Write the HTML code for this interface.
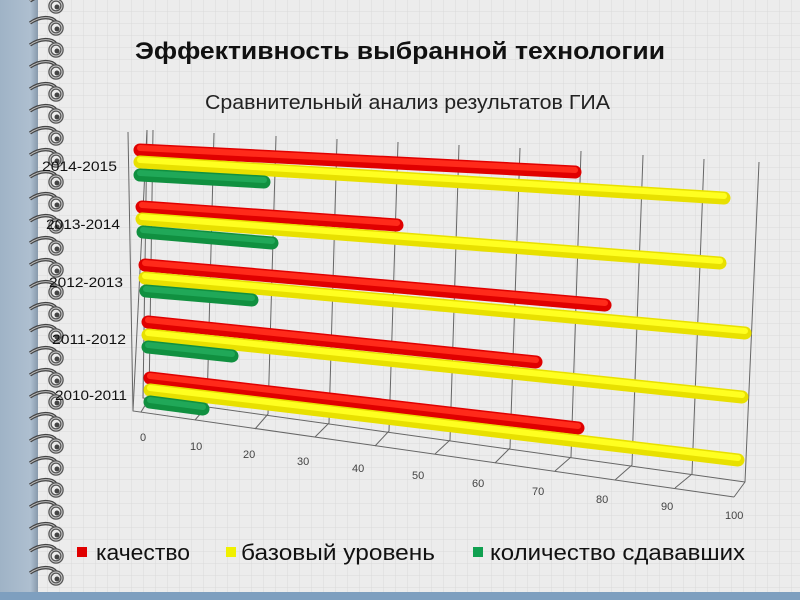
<!DOCTYPE html>
<html><head><meta charset="utf-8"><style>
html,body{margin:0;padding:0;width:800px;height:600px;overflow:hidden}
body{background:#ebebeb}
svg{display:block}
</style></head><body>
<svg width="800" height="600" xmlns="http://www.w3.org/2000/svg" font-family="Liberation Sans, DejaVu Sans, sans-serif">
<defs>
<pattern id="grid" width="12" height="12" patternUnits="userSpaceOnUse">
<rect width="12" height="12" fill="#ececec"/>
<path d="M12 0V12M0 12H12" stroke="#dadada" stroke-width="1"/>
</pattern>
<linearGradient id="side" x1="0" x2="1"><stop offset="0" stop-color="#9fb3c6"/><stop offset="0.8" stop-color="#aebfd0"/><stop offset="1" stop-color="#8799ab"/></linearGradient>
<g id="coil">
<path d="M30 5 C40 -2 52 -2 56 4" stroke="#444" stroke-width="3.5" fill="none"/>
<path d="M30 5 C40 -2 52 -2 56 4" stroke="#bbb" stroke-width="1" fill="none"/>
<circle cx="56" cy="10" r="6" fill="none" stroke="#555" stroke-width="3.5"/>
<circle cx="56" cy="10" r="6" fill="none" stroke="#ccc" stroke-width="1"/>
<circle cx="57" cy="11" r="2.5" fill="#444"/>
</g>
</defs>
<rect width="800" height="600" fill="url(#grid)"/>
<rect width="38" height="600" fill="url(#side)"/>
<rect x="0" y="592" width="800" height="8" fill="#7e9fbf"/>
<g>
<use href="#coil" y="-4"/><use href="#coil" y="18"/><use href="#coil" y="40"/><use href="#coil" y="62"/><use href="#coil" y="84"/><use href="#coil" y="106"/><use href="#coil" y="128"/><use href="#coil" y="150"/><use href="#coil" y="172"/><use href="#coil" y="194"/><use href="#coil" y="216"/><use href="#coil" y="238"/><use href="#coil" y="260"/><use href="#coil" y="282"/><use href="#coil" y="304"/><use href="#coil" y="326"/><use href="#coil" y="348"/><use href="#coil" y="370"/><use href="#coil" y="392"/><use href="#coil" y="414"/><use href="#coil" y="436"/><use href="#coil" y="458"/><use href="#coil" y="480"/><use href="#coil" y="502"/><use href="#coil" y="524"/><use href="#coil" y="546"/><use href="#coil" y="568"/>
</g>
<text x="135" y="59" font-size="24" font-weight="bold" fill="#111" textLength="530" lengthAdjust="spacingAndGlyphs">Эффективность выбранной технологии</text>
<text x="205" y="109" font-size="20" fill="#222" textLength="405" lengthAdjust="spacingAndGlyphs">Сравнительный анализ результатов ГИА</text>

<g stroke="#666" stroke-width="1" fill="none">
<path d="M128 132 L133 411 L734 497"/>
<path d="M147 130 L143 398 L745 482"/>
<path d="M147 130 L133 411"/>
<path d="M153 130 L149 399 L141 412"/>
<path d="M214 133 L207 406 L195 420"/>
<path d="M276 136 L268 414 L255 429"/>
<path d="M337 139 L329 423 L315 437"/>
<path d="M398 142 L389 431 L375 446"/>
<path d="M459 145 L450 440 L435 454"/>
<path d="M520 148 L510 448 L495 463"/>
<path d="M581 151 L571 457 L555 471"/>
<path d="M643 155 L632 465 L615 480"/>
<path d="M704 159 L692 474 L675 488"/>
<path d="M759 162 L745 482 L734 497"/>
</g>
<g font-size="11" fill="#444">
<text x="140" y="441">0</text><text x="190" y="450">10</text><text x="243" y="458">20</text><text x="297" y="465">30</text><text x="352" y="472">40</text><text x="412" y="479">50</text><text x="472" y="487">60</text><text x="532" y="495">70</text><text x="596" y="503">80</text><text x="661" y="510">90</text><text x="725" y="519">100</text>
</g>

<g stroke-linecap="round">
<g stroke-width="13">
<path d="M140 150L575 172" stroke="#e00000"/><path d="M140 162L724 198" stroke="#e8e000"/><path d="M140 175L264 182" stroke="#109040"/>
<path d="M142 207L397 225" stroke="#e00000"/><path d="M142 219L720 263" stroke="#e8e000"/><path d="M143 232L272 243" stroke="#109040"/>
<path d="M145 265L605 305" stroke="#e00000"/><path d="M145 278L745 333" stroke="#e8e000"/><path d="M146 291L252 300" stroke="#109040"/>
<path d="M148 322L536 362" stroke="#e00000"/><path d="M148 335L742 397" stroke="#e8e000"/><path d="M148 347L232 356" stroke="#109040"/>
<path d="M150 378L578 428" stroke="#e00000"/><path d="M150 390L738 460" stroke="#e8e000"/><path d="M150 402L203 409" stroke="#109040"/>
</g>
<g stroke-width="6" transform="translate(0,-2)">
<path d="M140 150L575 172" stroke="#ff2a1a"/><path d="M140 162L724 198" stroke="#ffff20"/><path d="M140 175L264 182" stroke="#20a858"/>
<path d="M142 207L397 225" stroke="#ff2a1a"/><path d="M142 219L720 263" stroke="#ffff20"/><path d="M143 232L272 243" stroke="#20a858"/>
<path d="M145 265L605 305" stroke="#ff2a1a"/><path d="M145 278L745 333" stroke="#ffff20"/><path d="M146 291L252 300" stroke="#20a858"/>
<path d="M148 322L536 362" stroke="#ff2a1a"/><path d="M148 335L742 397" stroke="#ffff20"/><path d="M148 347L232 356" stroke="#20a858"/>
<path d="M150 378L578 428" stroke="#ff2a1a"/><path d="M150 390L738 460" stroke="#ffff20"/><path d="M150 402L203 409" stroke="#20a858"/>
</g>
</g>

<g font-size="14" fill="#111">
<text x="42" y="171" textLength="75" lengthAdjust="spacingAndGlyphs">2014-2015</text>
<text x="46" y="229" textLength="74" lengthAdjust="spacingAndGlyphs">2013-2014</text>
<text x="49" y="287" textLength="74" lengthAdjust="spacingAndGlyphs">2012-2013</text>
<text x="52" y="344" textLength="74" lengthAdjust="spacingAndGlyphs">2011-2012</text>
<text x="55" y="400" textLength="72" lengthAdjust="spacingAndGlyphs">2010-2011</text>
</g>

<rect x="77" y="547" width="10" height="10" fill="#e00000"/>
<text x="96" y="560" font-size="22" fill="#111" textLength="94" lengthAdjust="spacingAndGlyphs">качество</text>
<rect x="226" y="547" width="10" height="10" fill="#f0f000"/>
<text x="241" y="560" font-size="22" fill="#111" textLength="194" lengthAdjust="spacingAndGlyphs">базовый уровень</text>
<rect x="473" y="547" width="10" height="10" fill="#10a050"/>
<text x="490" y="560" font-size="22" fill="#111" textLength="255" lengthAdjust="spacingAndGlyphs">количество сдававших</text>
</svg>
</body></html>
